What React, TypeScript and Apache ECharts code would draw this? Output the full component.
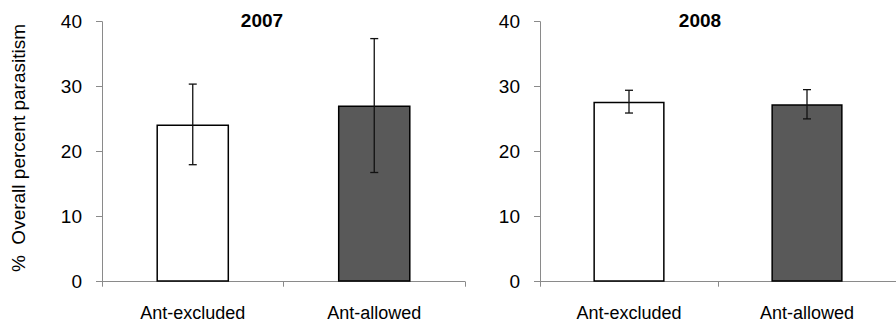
import React, { useEffect, useRef } from "react";
import * as echarts from "echarts";

const categories = ["Ant-excluded", "Ant-allowed"];
const years = ["2007", "2008"];
const means2007 = [24.2, 27.1];
const errors2007 = [6.2, 10.3];
const means2008 = [27.7, 27.3];
const errors2008 = [1.75, 2.25];
const yName = "%  Overall percent parasitism";

const FONT = "'Liberation Sans', Arial, sans-serif";
const BAR_COLORS = ["#ffffff", "#595959"];
const AXIS_COLOR = "#8a8a8a";

export default function App() {
  const ref = useRef<HTMLDivElement>(null);
  useEffect(() => {
    document.body.style.margin = "0";
    const chart = echarts.init(ref.current!, null, { renderer: "svg" });
    const meansList = [means2007, means2008];
    const errList = [errors2007, errors2008];
    const gridLefts = [102, 540];
    const grids = gridLefts.map((l) => ({ left: l, top: 21.7, height: 260, width: 363 }));
    const xAxes = grids.map((_, i) => ({
      type: "category",
      gridIndex: i,
      data: categories,
      axisLine: { show: true, lineStyle: { color: AXIS_COLOR, width: 1 } },
      axisTick: { show: true, alignWithLabel: false, length: 5, lineStyle: { color: AXIS_COLOR } },
      axisLabel: { color: "#000", fontFamily: FONT, fontSize: 18, margin: 22 },
    }));
    const yAxes = grids.map((_, i) => ({
      type: "value",
      gridIndex: i,
      min: 0,
      max: 40,
      interval: 10,
      axisLine: { show: true, lineStyle: { color: AXIS_COLOR, width: 1 } },
      axisTick: { show: true, length: 6, lineStyle: { color: AXIS_COLOR } },
      splitLine: { show: false },
      axisLabel: { color: "#000", fontFamily: FONT, fontSize: 19, margin: 20 },
    }));
    const series: any[] = [];
    meansList.forEach((means, g) => {
      series.push({
        type: "bar",
        xAxisIndex: g,
        yAxisIndex: g,
        barWidth: "40%",
        data: means.map((v, i) => ({
          value: v,
          itemStyle: { color: BAR_COLORS[i], borderColor: "#000", borderWidth: 1.5 },
        })),
      });
      series.push({
        type: "custom",
        xAxisIndex: g,
        yAxisIndex: g,
        z: 10,
        data: means.map((v, i) => [i, v - errList[g][i], v + errList[g][i]]),
        encode: { x: 0, y: [1, 2] },
        renderItem: (params: any, api: any) => {
          const x = api.value(0);
          const lo = api.coord([x, api.value(1)]);
          const hi = api.coord([x, api.value(2)]);
          const hw = 4;
          const style = { stroke: "#111", lineWidth: 1.3 };
          return {
            type: "group",
            children: [
              { type: "line", shape: { x1: hi[0], y1: hi[1], x2: lo[0], y2: lo[1] }, style },
              { type: "line", shape: { x1: hi[0] - hw, y1: hi[1], x2: hi[0] + hw, y2: hi[1] }, style },
              { type: "line", shape: { x1: lo[0] - hw, y1: lo[1], x2: lo[0] + hw, y2: lo[1] }, style },
            ],
          };
        },
      });
    });
    const titleX = [262, 700];
    chart.setOption({
      animation: false,
      grid: grids,
      xAxis: xAxes,
      yAxis: yAxes,
      series,
      graphic: [
        ...years.map((y, i) => ({
          type: "text",
          x: titleX[i],
          y: 20,
          style: {
            text: y,
            fontFamily: FONT,
            fontWeight: "bold",
            fontSize: 19,
            fill: "#000",
            textAlign: "center",
            textVerticalAlign: "middle",
          },
        })),
        {
          type: "text",
          x: 18,
          y: 148,
          rotation: Math.PI / 2,
          style: {
            text: yName,
            fontFamily: FONT,
            fontSize: 19,
            fill: "#000",
            textAlign: "center",
            textVerticalAlign: "middle",
          },
        },
      ],
    });
    return () => chart.dispose();
  }, []);
  return <div ref={ref} style={{ width: 896, height: 326 }} />;
}
